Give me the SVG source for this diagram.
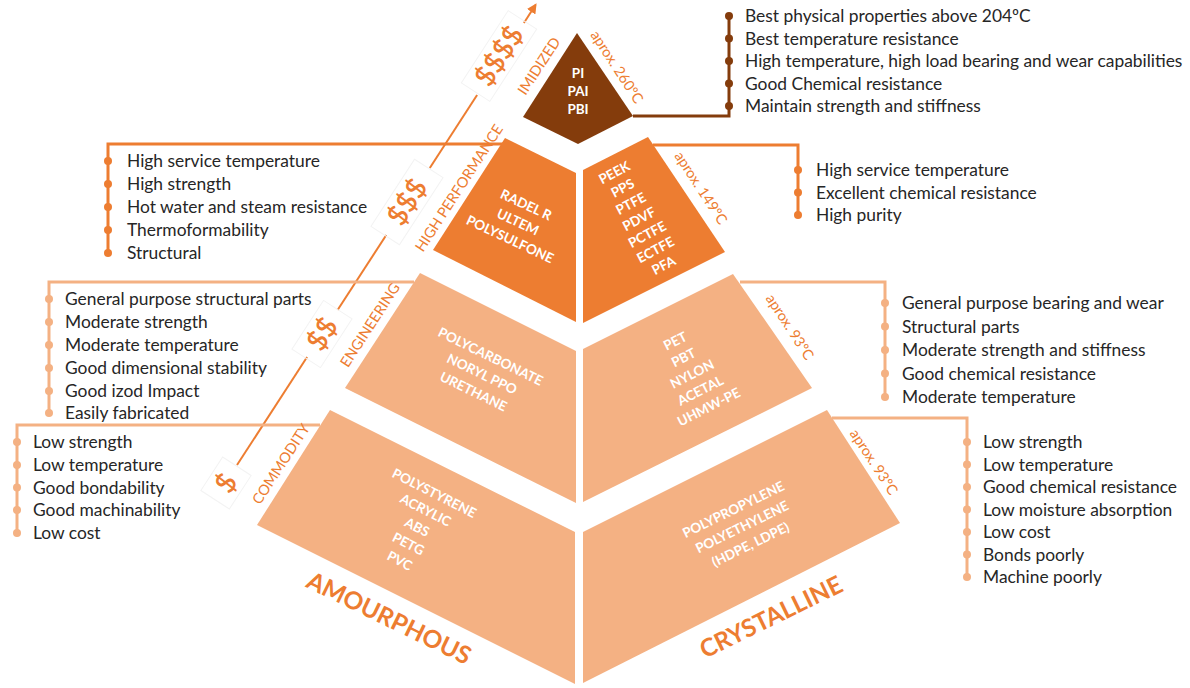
<svg xmlns="http://www.w3.org/2000/svg" width="1190" height="688" viewBox="0 0 1190 688">
  <style>
    text { font-family: Lato, "Liberation Sans", sans-serif; }
    .item { font-size: 17.4px; fill: #262626; }
    .face { font-size: 13.5px; font-weight: 700; fill: #ffffff; text-anchor: middle; }
    .tier { font-size: 14.5px; fill: #ED7D31; text-anchor: middle; }
    .cash { font-size: 28px; font-weight: 600; fill: #ED7D31; text-anchor: middle; }
    .base { font-size: 24.5px; font-weight: 700; fill: #ED7D31; text-anchor: middle; }
    .box { fill: none; stroke: #F3F3F3; stroke-width: 1; }
    .br { fill: none; stroke-width: 3; }
    .brown { stroke: #843C0C; }
    .dark { stroke: #ED7D31; }
    .light { stroke: #F4B183; }
    .dot-brown { fill: #843C0C; }
    .dot-dark { fill: #ED7D31; }
    .dot-light { fill: #F4B183; }
  </style>
  <defs>
    <marker id="arrow" viewBox="0 0 10 10" refX="8" refY="5" markerWidth="5" markerHeight="5" orient="auto">
      <path d="M0,0 L10,5 L0,10 z" fill="#ED7D31"/>
    </marker>
  </defs>

  <!-- cost axis -->
  <g id="cost-axis">
    <g stroke="#ED7D31" stroke-width="2" fill="none">
      <line x1="237" y1="465" x2="307.1" y2="357"/>
      <line x1="337.6" y1="310" x2="386.3" y2="235"/>
      <line x1="429.8" y1="168" x2="477.1" y2="95"/>
      <line x1="523.9" y1="23" x2="535.5" y2="5" marker-end="url(#arrow)"/>
    </g>
    <g transform="translate(226,483) rotate(-57)"><rect class="box" x="-20" y="-17" width="40" height="34"/><text class="cash" y="0" dy="0.35em">$</text></g>
    <g transform="translate(322,334) rotate(-57)"><rect class="box" x="-29" y="-17" width="58" height="34"/><text class="cash" y="0" dy="0.35em">$$</text></g>
    <g transform="translate(407,202) rotate(-57)"><rect class="box" x="-40" y="-17" width="80" height="34"/><text class="cash" y="0" dy="0.35em">$$$</text></g>
    <g transform="translate(499,56) rotate(-57)"><rect class="box" x="-43" y="-17" width="86" height="34"/><text class="cash" y="0" dy="0.35em">$$$$</text></g>
  </g>

  <!-- connectors: brackets from tiers to property lists -->
  <g id="connectors">
    <path class="br brown" d="M633,116 H729 V16"/>
    <path class="br dark" d="M505,144 H108 V253"/>
    <path class="br dark" d="M653,145 H798 V215"/>
    <path class="br light" d="M414,282 H49 V413"/>
    <path class="br light" d="M740,282 H885 V397"/>
    <path class="br light" d="M320,425 H17 V533"/>
    <path class="br light" d="M832,418 H967 V578"/>
  </g>

  <!-- imidized tier -->
  <g id="imidized">
    <polygon points="577,33 633,116 578,144 523,117" fill="#843C0C"/>
    <text class="face" x="578" y="78" font-size="14">PI</text>
    <text class="face" x="578" y="96" font-size="14">PAI</text>
    <text class="face" x="578" y="114" font-size="14">PBI</text>
    <text class="tier" transform="translate(539,66) rotate(-57)" dy="0.35em">IMIDIZED</text>
    <text class="tier" transform="translate(617,67) rotate(57)" dy="0.35em">aprox. 260ºC</text>
    <g class="dot-brown">
      <circle cx="729" cy="16" r="4"/><circle cx="729" cy="38.5" r="4"/><circle cx="729" cy="61" r="4"/><circle cx="729" cy="83.5" r="4"/><circle cx="729" cy="106" r="4"/>
    </g>
    <text class="item" x="745" y="22">Best physical properties above 204ºC</text>
    <text class="item" x="745" y="44.5">Best temperature resistance</text>
    <text class="item" x="745" y="67">High temperature, high load bearing and wear capabilities</text>
    <text class="item" x="745" y="89.5">Good Chemical resistance</text>
    <text class="item" x="745" y="112">Maintain strength and stiffness</text>
  </g>

  <!-- high performance tier -->
  <g id="high-performance">
    <polygon points="505,138 576,173 576,322 433,250" fill="#ED7D31"/>
    <polygon points="583,170 648,137 725,252 583,323" fill="#ED7D31"/>
    <g transform="translate(518,222) rotate(25)">
      <text class="face" y="-19" dy="0.35em">RADEL R</text>
      <text class="face" y="0" dy="0.35em">ULTEM</text>
      <text class="face" y="19" dy="0.35em">POLYSULFONE</text>
    </g>
    <g transform="translate(639,219) rotate(-28)">
      <text class="face" y="-52.5" dy="0.35em">PEEK</text>
      <text class="face" y="-35" dy="0.35em">PPS</text>
      <text class="face" y="-17.5" dy="0.35em">PTFE</text>
      <text class="face" y="0" dy="0.35em">PDVF</text>
      <text class="face" y="17.5" dy="0.35em">PCTFE</text>
      <text class="face" y="35" dy="0.35em">ECTFE</text>
      <text class="face" y="52.5" dy="0.35em">PFA</text>
    </g>
    <text class="tier" font-size="13.5" transform="translate(459,188) rotate(-57)" dy="0.35em">HIGH PERFORMANCE</text>
    <text class="tier" transform="translate(701,188) rotate(57)" dy="0.35em">aprox. 149ºC</text>
    <g class="dot-dark">
      <circle cx="108" cy="161" r="4"/><circle cx="108" cy="184" r="4"/><circle cx="108" cy="207" r="4"/><circle cx="108" cy="230" r="4"/><circle cx="108" cy="253" r="4"/>
      <circle cx="798" cy="170" r="4"/><circle cx="798" cy="192.5" r="4"/><circle cx="798" cy="215" r="4"/>
    </g>
    <text class="item" x="127" y="167">High service temperature</text>
    <text class="item" x="127" y="190">High strength</text>
    <text class="item" x="127" y="213">Hot water and steam resistance</text>
    <text class="item" x="127" y="236">Thermoformability</text>
    <text class="item" x="127" y="259">Structural</text>
    <text class="item" x="816" y="176">High service temperature</text>
    <text class="item" x="816" y="198.5">Excellent chemical resistance</text>
    <text class="item" x="816" y="221">High purity</text>
  </g>

  <!-- engineering tier -->
  <g id="engineering">
    <polygon points="420,273 576,351 576,503 345,388" fill="#F4B183"/>
    <polygon points="583,349 733,274 812,388 583,502" fill="#F4B183"/>
    <g transform="translate(482,374) rotate(26)">
      <text class="face" y="-19.5" dy="0.35em">POLYCARBONATE</text>
      <text class="face" y="0" dy="0.35em">NORYL PPO</text>
      <text class="face" y="19.5" dy="0.35em">URETHANE</text>
    </g>
    <g transform="translate(692,374) rotate(-27)">
      <text class="face" y="-37" dy="0.35em">PET</text>
      <text class="face" y="-18.5" dy="0.35em">PBT</text>
      <text class="face" y="0" dy="0.35em">NYLON</text>
      <text class="face" y="18.5" dy="0.35em">ACETAL</text>
      <text class="face" y="37" dy="0.35em">UHMW-PE</text>
    </g>
    <text class="tier" transform="translate(370,325) rotate(-57)" dy="0.35em">ENGINEERING</text>
    <text class="tier" transform="translate(790,327) rotate(57)" dy="0.35em">aprox. 93ºC</text>
    <g class="dot-light">
      <circle cx="49" cy="299" r="4"/><circle cx="49" cy="322" r="4"/><circle cx="49" cy="345" r="4"/><circle cx="49" cy="368" r="4"/><circle cx="49" cy="391" r="4"/><circle cx="49" cy="413" r="4"/>
      <circle cx="885" cy="303" r="4"/><circle cx="885" cy="326.5" r="4"/><circle cx="885" cy="350" r="4"/><circle cx="885" cy="373.5" r="4"/><circle cx="885" cy="397" r="4"/>
    </g>
    <text class="item" x="65" y="305">General purpose structural parts</text>
    <text class="item" x="65" y="328">Moderate strength</text>
    <text class="item" x="65" y="351">Moderate temperature</text>
    <text class="item" x="65" y="374">Good dimensional stability</text>
    <text class="item" x="65" y="397">Good izod Impact</text>
    <text class="item" x="65" y="419">Easily fabricated</text>
    <text class="item" x="902" y="309">General purpose bearing and wear</text>
    <text class="item" x="902" y="332.5">Structural parts</text>
    <text class="item" x="902" y="356">Moderate strength and stiffness</text>
    <text class="item" x="902" y="379.5">Good chemical resistance</text>
    <text class="item" x="902" y="403">Moderate temperature</text>
  </g>

  <!-- commodity tier -->
  <g id="commodity">
    <polygon points="330,410 575,532 575,684 257,525" fill="#F4B183"/>
    <polygon points="583,532 827,410 900,523 583,683" fill="#F4B183"/>
    <g transform="translate(417,527) rotate(27)">
      <text class="face" y="-38" dy="0.35em">POLYSTYRENE</text>
      <text class="face" y="-19" dy="0.35em">ACRYLIC</text>
      <text class="face" y="0" dy="0.35em">ABS</text>
      <text class="face" y="19" dy="0.35em">PETG</text>
      <text class="face" y="38" dy="0.35em">PVC</text>
    </g>
    <g transform="translate(742,527) rotate(-26)">
      <text class="face" font-weight="600" y="-19.5" dy="0.35em">POLYPROPYLENE</text>
      <text class="face" font-weight="600" y="0" dy="0.35em">POLYETHYLENE</text>
      <text class="face" font-weight="600" y="19.5" dy="0.35em">(HDPE, LDPE)</text>
    </g>
    <text class="tier" transform="translate(281,464) rotate(-57)" dy="0.35em">COMMODITY</text>
    <text class="tier" transform="translate(874,462) rotate(57)" dy="0.35em">aprox. 93ºC</text>
    <g class="dot-light">
      <circle cx="17" cy="442" r="4"/><circle cx="17" cy="465" r="4"/><circle cx="17" cy="487.5" r="4"/><circle cx="17" cy="510" r="4"/><circle cx="17" cy="533" r="4"/>
      <circle cx="967" cy="442" r="4"/><circle cx="967" cy="464.5" r="4"/><circle cx="967" cy="487" r="4"/><circle cx="967" cy="509.5" r="4"/><circle cx="967" cy="532" r="4"/><circle cx="967" cy="554.5" r="4"/><circle cx="967" cy="577" r="4"/>
    </g>
    <text class="item" x="33" y="448">Low strength</text>
    <text class="item" x="33" y="471">Low temperature</text>
    <text class="item" x="33" y="493.5">Good bondability</text>
    <text class="item" x="33" y="516">Good machinability</text>
    <text class="item" x="33" y="539">Low cost</text>
    <text class="item" x="983" y="448">Low strength</text>
    <text class="item" x="983" y="470.5">Low temperature</text>
    <text class="item" x="983" y="493">Good chemical resistance</text>
    <text class="item" x="983" y="515.5">Low moisture absorption</text>
    <text class="item" x="983" y="538">Low cost</text>
    <text class="item" x="983" y="560.5">Bonds poorly</text>
    <text class="item" x="983" y="583">Machine poorly</text>
  </g>

  <!-- structure labels -->
  <g id="structure-labels">
    <text class="base" transform="translate(389,618) rotate(26)" dy="0.35em">AMOURPHOUS</text>
    <text class="base" transform="translate(771,617) rotate(-26)" dy="0.35em">CRYSTALLINE</text>
  </g>
</svg>
